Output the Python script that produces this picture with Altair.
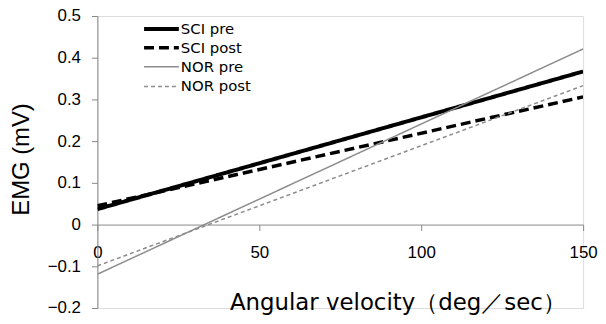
import altair as alt
import pandas as pd

series = ["SCI pre", "SCI post", "NOR pre", "NOR post"]
x_vals = [0, 150]
sci_pre = [0.037, 0.367]
sci_post = [0.045, 0.306]
nor_pre = [-0.119, 0.421]
nor_post = [-0.099, 0.333]
y_ticks = [-0.2, -0.1, 0, 0.1, 0.2, 0.3, 0.4, 0.5]
x_ticks = [0, 50, 100, 150]

rows = []
for name, vals in zip(series, [sci_pre, sci_post, nor_pre, nor_post]):
    for xv, yv in zip(x_vals, vals):
        rows.append({"series": name, "x": xv, "y": yv})
df = pd.DataFrame(rows)

colors = ["#000000", "#000000", "#8c8c8c", "#8c8c8c"]
dashes = [[1, 0], [10, 5], [1, 0], [4, 3]]
widths = [4, 3.5, 1.5, 1.5]

TICK_FONT = "Liberation Sans"
TITLE_FONT = "DejaVu Sans"

x_enc = alt.X(
    "x:Q",
    scale=alt.Scale(domain=[0, 150], nice=False, zero=False),
    axis=alt.Axis(
        values=x_ticks,
        offset=-84,
        grid=False,
        labelFlush=False,
        domainColor="#888888",
        tickColor="#888888",
        tickSize=6,
        labelPadding=14,
        labelFont=TICK_FONT,
        labelFontSize=17,
        labelColor="#000000",
        title="Angular velocity（deg／sec）",
        titleFont=TITLE_FONT,
        titleFontSize=23,
        titleFontWeight="normal",
        titleColor="#000000",
        titleX=302,
        titleY=86,
        titleAlign="center",
        titleBaseline="alphabetic",
    ),
)
y_enc = alt.Y(
    "y:Q",
    scale=alt.Scale(domain=[-0.2, 0.5], nice=False, zero=False),
    axis=alt.Axis(
        values=y_ticks,
        format="~g",
        grid=False,
        domainColor="#888888",
        tickColor="#888888",
        tickSize=6,
        labelPadding=11,
        labelFont=TICK_FONT,
        labelFontSize=17,
        labelColor="#000000",
        title="EMG (mV)",
        titleFont=TICK_FONT,
        titleFontSize=24,
        titleFontWeight="normal",
        titleColor="#000000",
        titleAngle=-90,
        titleX=-76,
        titleY=144,
        titleAlign="center",
        titleBaseline="middle",
    ),
)

layers = []
legend_y = [13, 32, 51, 71]
for i, name in enumerate(series):
    line = alt.Chart(df).transform_filter(
        alt.datum.series == name
    ).mark_line(
        clip=True, color=colors[i], strokeDash=dashes[i], strokeWidth=widths[i]
    ).encode(x=x_enc, y=y_enc)
    layers.append(line)

for i, name in enumerate(series):
    ld = pd.DataFrame({"series": [name]})
    rule = alt.Chart(ld).mark_rule(
        color=colors[i], strokeDash=dashes[i], strokeWidth=widths[i]
    ).encode(
        x=alt.value(47),
        x2=alt.value(82),
        y=alt.value(legend_y[i]),
    )
    txt = alt.Chart(ld).mark_text(
        align="left", baseline="middle", font=TITLE_FONT, fontSize=15, color="#000000"
    ).encode(
        x=alt.value(84),
        y=alt.value(legend_y[i]),
        text="series:N",
    )
    layers += [rule, txt]

chart = alt.layer(*layers).properties(
    width=489,
    height=294,
    autosize=alt.AutoSizeParams(type="none"),
    padding={"left": 90, "top": 7, "right": 15, "bottom": 7},
).configure_view(stroke=None).configure(background="white")

chart.save("out.html", embed_options={"renderer": "svg", "actions": False})
